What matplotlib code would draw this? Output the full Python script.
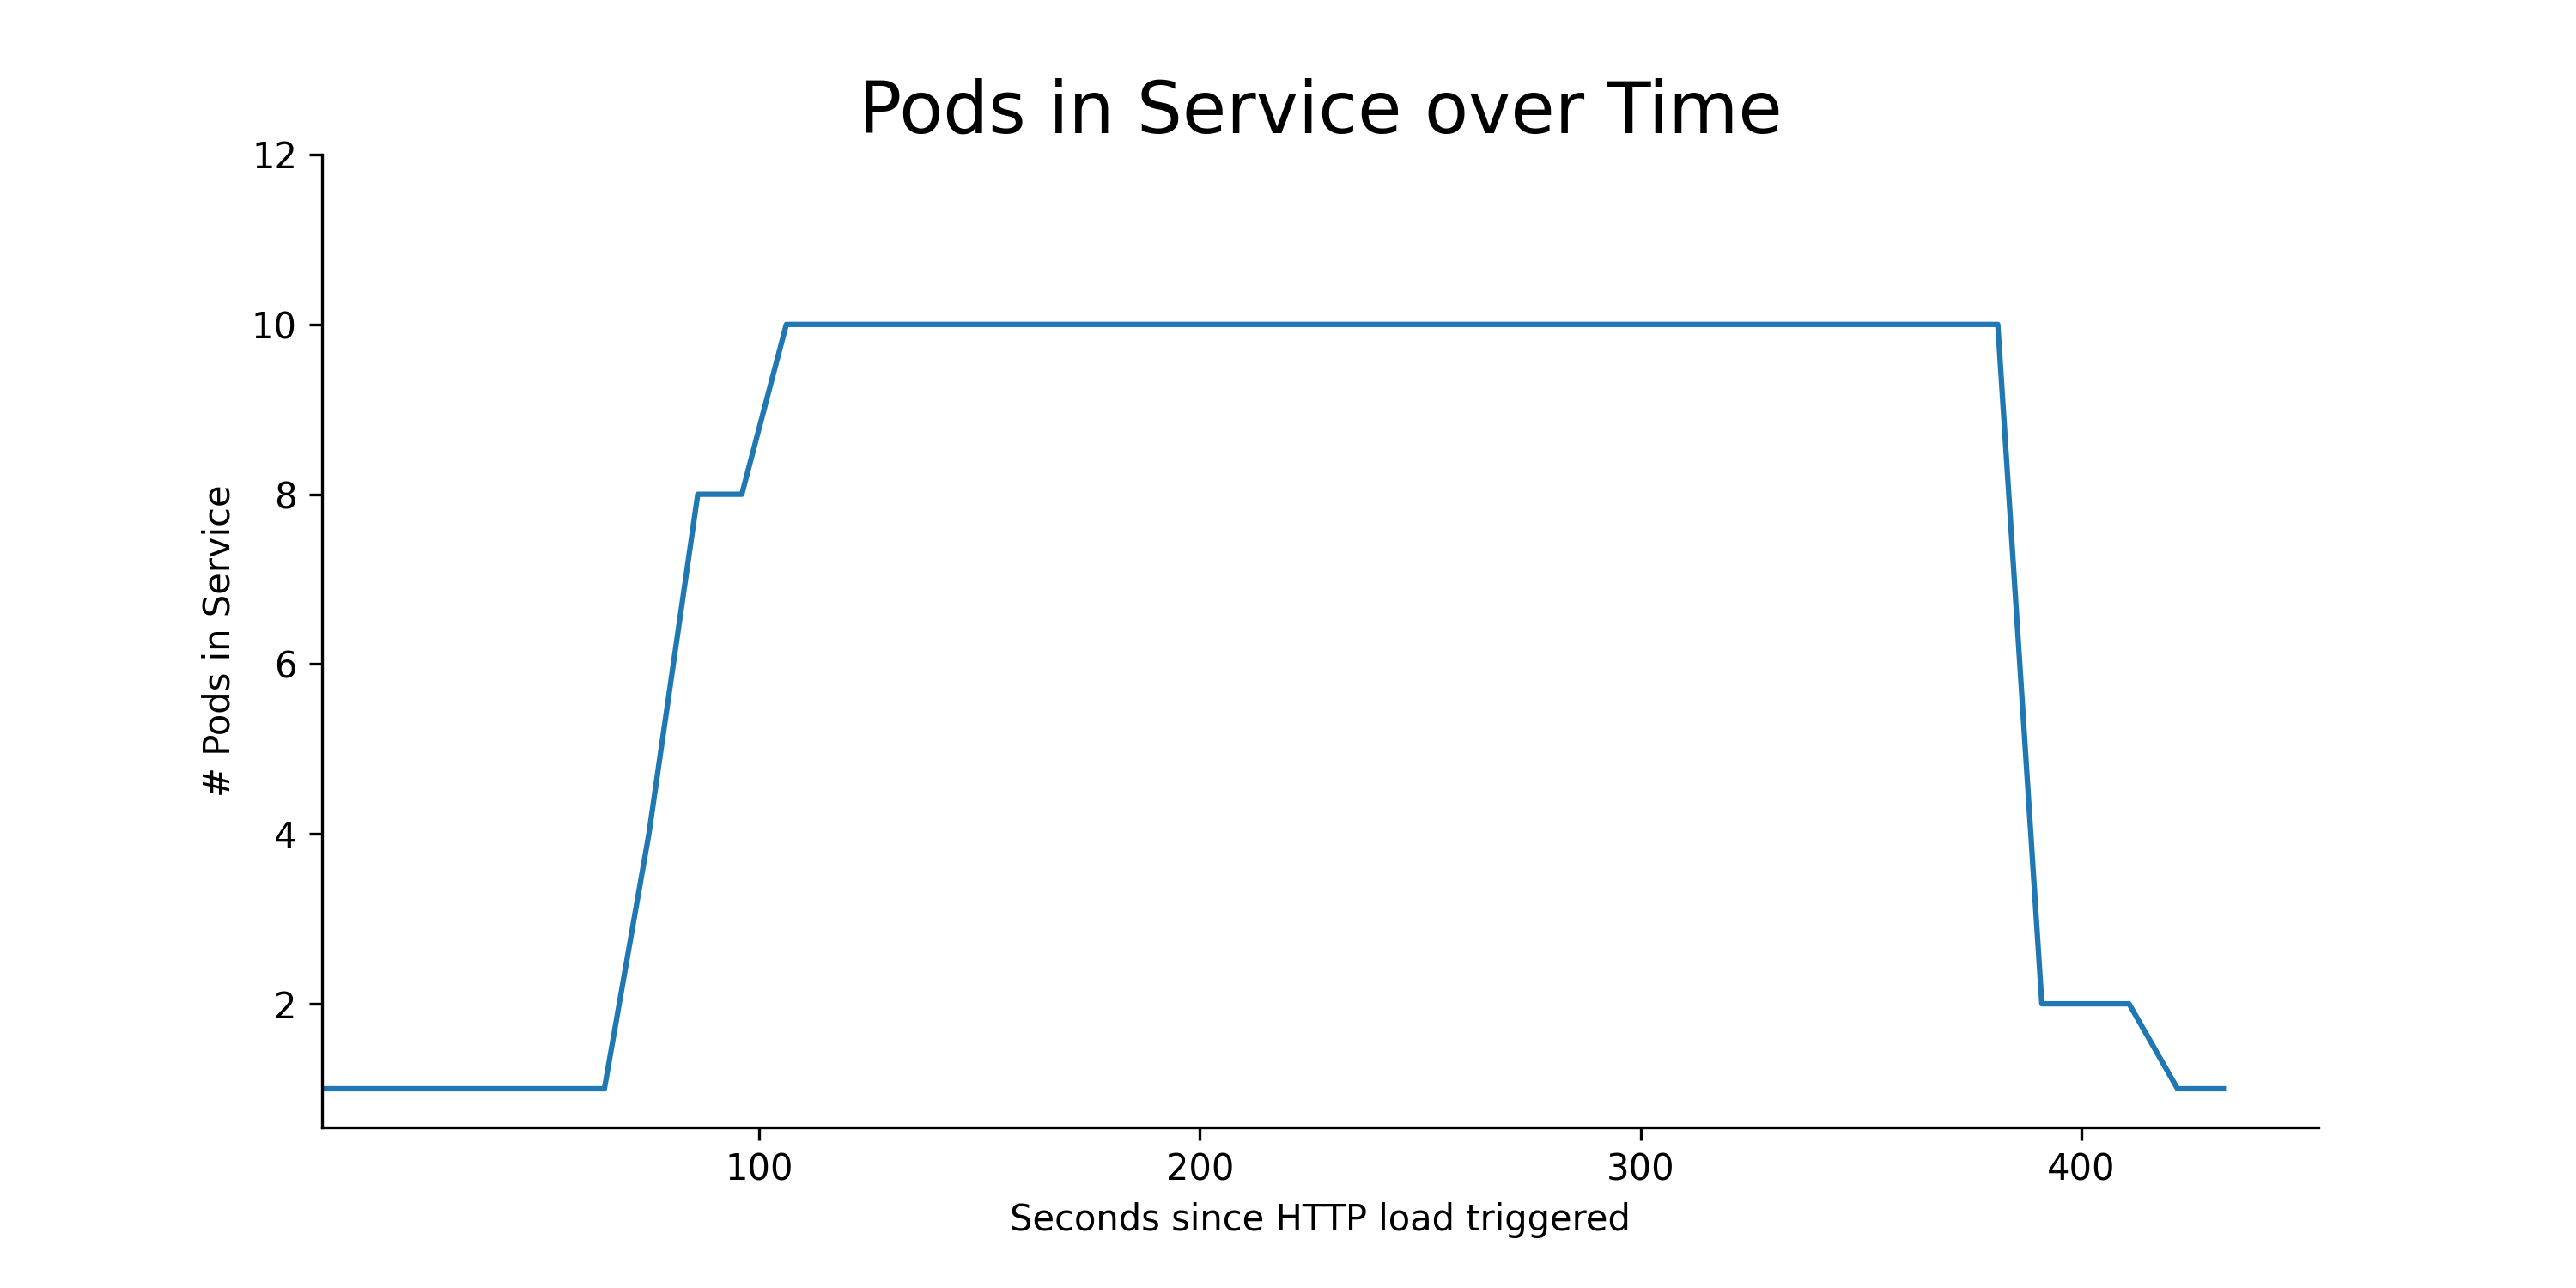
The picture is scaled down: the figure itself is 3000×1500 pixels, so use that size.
import matplotlib
matplotlib.use('Agg')
import matplotlib.pyplot as plt

# time of each sample (s) and pods in service
seconds = [0.7, 64.8, 74.9, 86.0, 96.0, 106.1, 381.1, 391.1, 410.9, 421.9, 432.3]
pods = [1, 1, 4, 8, 8, 10, 10, 2, 2, 1, 1]

fig, ax = plt.subplots(figsize=(10, 5), dpi=300)
fig.subplots_adjust(left=0.125, right=0.9, bottom=0.125, top=0.88)

ax.plot(seconds, pods, color='#1f77b4')

ax.set_title('Pods in Service over Time', fontsize=20)
ax.set_xlabel('Seconds since HTTP load triggered')
ax.set_ylabel('# Pods in Service')

ax.set_xlim(left=min(seconds))
ax.set_ylim(top=12)

ax.spines['top'].set_visible(False)
ax.spines['right'].set_visible(False)

plt.savefig('out.png')
